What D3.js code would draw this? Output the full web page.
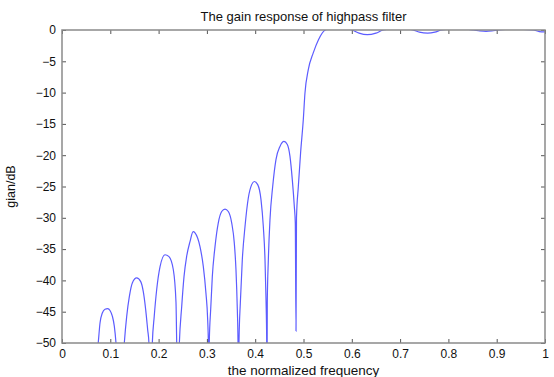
<!DOCTYPE html>
<html><head><meta charset="utf-8">
<script src="https://cdn.jsdelivr.net/npm/d3@7"></script>
<style>
body{margin:0;background:#fff;}
text{font-family:"Liberation Sans",Arial,sans-serif;fill:#111;}
</style></head><body>
<svg id="chart" width="554" height="377"></svg>
<script>
// Frequencies (normalized) and gain (dB)
const freq = [
 0.000,0.030,0.060,
 0.075,0.0787,0.0835,0.089,0.0946,0.0994,0.1042,0.1083,0.1118,
 0.120,
 0.129,0.134,0.1394,0.1456,0.1546,0.163,0.1683,0.1733,0.1774,0.180,
 0.1835,
 0.187,0.191,0.196,0.203,0.2133,0.2215,0.2305,0.236,0.2375,
 0.240,
 0.243,0.2478,0.2526,0.258,0.265,0.2715,0.2754,0.2857,0.2926,0.298,0.3016,0.303,
 0.304,
 0.305,0.3078,0.3112,0.3168,0.3236,0.3306,0.3375,0.3443,0.3513,0.3567,0.3602,0.363,0.3644,
 0.3655,
 0.3665,0.3692,0.3733,0.3789,0.3858,0.3927,0.3981,0.4052,0.412,0.4168,0.4203,0.4224,0.4238,
 0.4244,
 0.425,0.4272,0.4306,0.4362,0.443,0.4513,0.4596,0.4665,0.472,0.4768,0.481,0.483,
 0.4845,0.4855,0.4893,0.494,0.4996,0.503,0.510,0.520,0.531,0.545,
 0.560,0.580,0.600,0.615,0.632,0.650,0.665,0.690,0.710,0.727,0.740,0.757,0.772,0.786,
 0.810,0.830,0.852,0.865,0.878,0.890,0.903,0.920,0.950,0.976,0.988,1.000
];
const gainDB = [
 -80,-70,-58,
 -50,-46.8,-45.2,-44.6,-44.5,-44.8,-45.7,-47.3,-50,
 -62,
 -50,-45.7,-42.6,-40.4,-39.6,-40.2,-41.8,-44.7,-47.9,-50,
 -60,
 -50,-45.7,-41.5,-37.8,-35.9,-36.2,-38.3,-43.5,-50,
 -58,
 -50,-44.2,-39.4,-36.2,-33.8,-32.2,-32.4,-34.6,-37.8,-42.0,-46.3,-50,
 -60,
 -49.7,-44.7,-39.4,-34.6,-30.8,-29.0,-28.6,-29.0,-30.8,-34.0,-38.3,-44.7,-49.7,
 -60,
 -49.7,-43.6,-36.7,-31.4,-26.8,-24.7,-24.2,-24.7,-27.1,-31.4,-36.7,-43.1,-49.7,
 -60,
 -43.6,-36.7,-30.3,-25.0,-20.7,-18.6,-17.8,-18.3,-20.2,-23.9,-28.2,-30.8,
 -48.1,-30.0,-25.0,-19.6,-14.3,-10.1,-6.3,-3.7,-1.55,0,
 0.3,0.3,0,-0.5,-0.75,-0.5,0,0.2,0.2,0,-0.35,-0.5,-0.35,0,
 0.15,0.15,0,-0.15,-0.22,-0.15,0,0.1,0.1,0,-0.25,-0.3
];
const xTicks = [0,0.1,0.2,0.3,0.4,0.5,0.6,0.7,0.8,0.9,1];
const yTicks = [0,-5,-10,-15,-20,-25,-30,-35,-40,-45,-50];

const svg = d3.select("#chart");
const L=62, R=545, T=30, B=343;
const x = d3.scaleLinear().domain([0,1]).range([L,R]);
const y = d3.scaleLinear().domain([-50,0]).range([B,T]);
const axisColor = "#8a8a8a";

svg.append("defs").append("clipPath").attr("id","clip")
  .append("rect").attr("x",L).attr("y",T).attr("width",R-L).attr("height",B-T);

const data = freq.map((f,i)=>({f, g:gainDB[i]}));
svg.append("path").datum(data)
  .attr("clip-path","url(#clip)")
  .attr("fill","none").attr("stroke","#5c5cff").attr("stroke-width",1.2)
  .attr("d", d3.line().curve(d3.curveMonotoneX).x(d=>x(d.f)).y(d=>y(d.g)));

function styleAxis(g){
  g.select(".domain").remove();
  g.selectAll(".tick line").attr("stroke","#555");
  g.selectAll(".tick text").style("font-size","12px").attr("fill","#111");
}
// bottom
svg.append("g").attr("transform",`translate(0,${B})`)
  .call(d3.axisBottom(x).tickValues(xTicks).tickFormat(d=>d3.format("")(d)).tickSizeInner(-4).tickSizeOuter(0).tickPadding(6))
  .call(styleAxis);
// top
svg.append("g").attr("transform",`translate(0,${T})`)
  .call(d3.axisTop(x).tickValues(xTicks).tickFormat("").tickSizeInner(-4).tickSizeOuter(0))
  .call(styleAxis);
// left
svg.append("g").attr("transform",`translate(${L},0)`)
  .call(d3.axisLeft(y).tickValues(yTicks).tickFormat(d=>d3.format("")(d)).tickSizeInner(-4).tickSizeOuter(0).tickPadding(6))
  .call(styleAxis);
// right
svg.append("g").attr("transform",`translate(${R},0)`)
  .call(d3.axisRight(y).tickValues(yTicks).tickFormat("").tickSizeInner(-4).tickSizeOuter(0))
  .call(styleAxis);

svg.append("rect").attr("x",L).attr("y",T).attr("width",R-L).attr("height",B-T)
  .attr("fill","none").attr("stroke",axisColor).attr("stroke-width",1.5);

svg.append("text").attr("x",(L+R)/2).attr("y",21).attr("text-anchor","middle")
  .style("font-size","13px").text("The gain response of highpass filter");
svg.append("text").attr("x",(L+R)/2).attr("y",375).attr("text-anchor","middle")
  .style("font-size","13.5px").text("the normalized frequency");
svg.append("text").attr("transform",`translate(15,${(T+B)/2}) rotate(-90)`).attr("text-anchor","middle")
  .style("font-size","12.5px").text("gian/dB");
</script></body></html>
